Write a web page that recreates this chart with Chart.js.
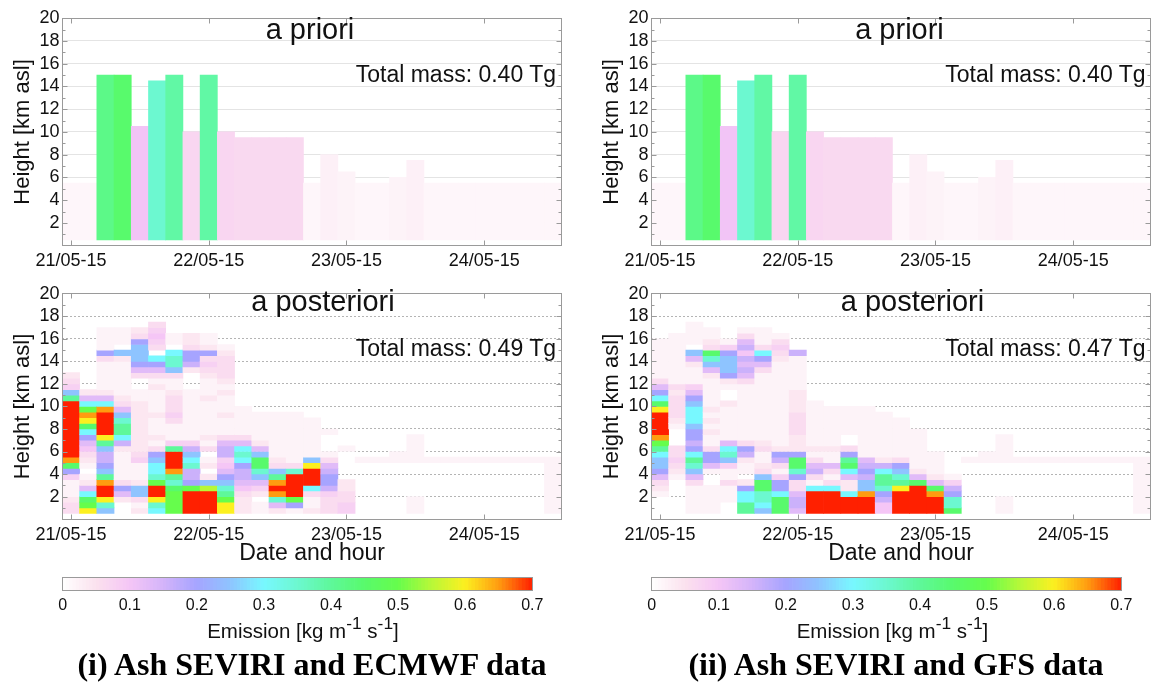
<!DOCTYPE html>
<html>
<head>
<meta charset="utf-8">
<script src="https://cdn.jsdelivr.net/npm/chart.js@4.4.1/dist/chart.umd.min.js"></script>
<style>
  html, body { margin: 0; padding: 0; background: #fff; }
  body { width: 1151px; height: 682px; position: relative; overflow: hidden;
         font-family: "Liberation Sans", Arial, Helvetica, sans-serif; color: #111; }
  canvas { position: absolute; }
  .t { position: absolute; white-space: nowrap; line-height: 1; }
  .cap { font-family: "Liberation Serif", "Times New Roman", serif; font-weight: bold; color: #000; }
  sup { font-size: 0.85em; line-height: 0; vertical-align: 0.5em; }
</style>
</head>
<body>
<canvas id="prioriL" width="580" height="272" style="left:0;top:0"></canvas>
<canvas id="prioriR" width="580" height="272" style="left:589px;top:0"></canvas>
<canvas id="postL" width="580" height="292" style="left:0;top:280px"></canvas>
<canvas id="postR" width="580" height="292" style="left:589px;top:280px"></canvas>
<canvas id="barL" width="580" height="58" style="left:0;top:565px"></canvas>
<canvas id="barR" width="580" height="58" style="left:589px;top:565px"></canvas>
<script>
// time slots (hours after 21/05-15 00:00), one cell column each
const columnHours = [0, 3, 6, 9, 12, 15, 18, 21, 24, 27, 30, 33, 36, 39, 42, 45, 48, 51, 54, 57, 60, 63, 66, 69, 72, 75, 78, 81, 84];
const dateTickHours = [0, 24, 48, 72];
const dateTickLabels = ['21/05-15', '22/05-15', '23/05-15', '24/05-15'];
const heightTicks = [2, 4, 6, 8, 10, 12, 14, 16, 18, 20];

// a priori: one column from 0.5 km up to the given top, one emission value
const aprioriTop = [5.5, 5.5, 15, 15, 10.5, 14.5, 15, 10, 15, 10, 9.5, 9.5, 9.5, 9.5, 5.5, 8, 6.5, 5.5, 5.5, 6, 7.5, 5.5, 5.5, 5.5, 5.5, 5.5, 5.5, 5.5, 5.5];
const aprioriEmission = [0.015, 0.015, 0.42, 0.45, 0.105, 0.35, 0.39, 0.07, 0.39, 0.07, 0.065, 0.065, 0.065, 0.065, 0.015, 0.025, 0.02, 0.015, 0.015, 0.02, 0.025, 0.015, 0.015, 0.015, 0.015, 0.015, 0.015, 0.015, 0.015];

// a posteriori: one string per column, one letter per 0.5 km level from 0.5 km upward
const levelCodes = '.abcdefghijklmnopqr';
const levelEmission = [0, 0.02, 0.04, 0.06, 0.08, 0.10, 0.13, 0.16, 0.20, 0.25, 0.30, 0.35, 0.40, 0.45, 0.50, 0.55, 0.60, 0.65, 0.70];

const posteriorEcmwf = [
  'ccbaaadhmqrrrrrrrrrrlidcb',
  'pnmjfba.abcefhjmpqnjfb',
  'ikprrqlihggilprrrrqjfbaaaaachaaaa',
  '..bfhcaaaaabgjllkifcbaaaaaabi.aaa',
  'baciibaaadcbbbbbbbbbaa..cfhiiihcb',
  'jkprrnkjjihcabaaabaaaabacfhj.cdedc',
  'nnnnmklqrrrldaaacdcccbaacikkj.aa',
  'rrrrnhggkjigdaaaaaaaaa...bghhcbb',
  'rrrroib.ba.cabaaaaaabaaabcdchbaa',
  'ppnlkihfedggfcaaabaaababccccba',
  'bbbcefgghjkjfcaaaaa',
  'aa.bdfikmmifbaaaaa',
  'bfkqrqlicbaaaaaaaa',
  'ahnrrrrkcaaaaaaaaa',
  'baacjrrrpiaaaaaaa',
  'cccdghhgfca...a',
  'ddccbb.....a',
  '.........a',
  '.........a',
  '.........aa',
  'aaa......aaaaa',
  '.........a',
  '.........a',
  '.........a',
  '.........a',
  '.........a',
  '.........a',
  '.........a',
  'aaaaaaaaaa'
];

const posteriorGfs = [
  '...abcfhiijlnqrrrrpmjhfcaaaaaaa',
  '......abcdcc...abccccbcaaaaaaaaa',
  'aaaaacfikljhghhijjjihfdaaabfi.aaaa',
  'aaaaa..afhhcaabababaaaaabfikmcbaa',
  '..aaacaadikjfaaaaaab..abhiiihda',
  'lljjhb.aabghcaaaaaaaaaacfgfgegfca',
  'ijkkmmicbaacbaaaaaaaaaaaacfhjcaaa',
  'mmmjhhdacghbaaaaaaaaaaaaaaabcdca',
  'fggfcchkmmhbbbccccbbbbaaaaaag',
  'rrrrjacgfcabaaaaaaaa',
  'rrrrjcacfaabaaaaaaa',
  'rrrjbbfjmlhc..aaaaa',
  'rrrqiighgfaaaaaaaaa',
  'eeghklljgbaaaaaaaa',
  'rrrrplkihcaaaaaaa',
  'rrrrrmfbaaaaaaa',
  'rrrqmfbaaaa',
  'mkkhgda',
  '.........a',
  '.........aa',
  'aaa......aaaaa',
  '.........a',
  '.........a',
  '.........a',
  '.........a',
  '.........a',
  '.........a',
  '.........a',
  'aaaaaaaaaa'
];

const panelTitles = ['a priori', 'a priori', 'a posteriori', 'a posteriori'];
const totalMassTg = ['0.40', '0.40', '0.49', '0.47'];
const captions = ['(i) Ash SEVIRI and ECMWF data', '(ii) Ash SEVIRI and GFS data'];

const colorbarTicks = [0, 0.1, 0.2, 0.3, 0.4, 0.5, 0.6, 0.7];
const colorbarTickLabels = ['0', '0.1', '0.2', '0.3', '0.4', '0.5', '0.6', '0.7'];

const colorStops = [
  [0, '#ffffff'], [0.05, '#fbe1ee'], [0.1, '#f5c6f6'], [0.15, '#d4b4fa'],
  [0.2, '#a6a4ff'], [0.25, '#8ec4ff'], [0.3, '#78f8ff'], [0.35, '#6cf8d0'],
  [0.4, '#5ef89a'], [0.45, '#58fa6c'], [0.5, '#66fd4c'], [0.55, '#b8f838'],
  [0.6, '#fcf020'], [0.65, '#ff9c10'], [0.7, '#ff2000']
];

const SANS = '"Liberation Sans", Arial, Helvetica, sans-serif';
Chart.defaults.font.family = SANS;
Chart.defaults.color = '#111';

function hexRgb(h) {
  return [parseInt(h.slice(1, 3), 16), parseInt(h.slice(3, 5), 16), parseInt(h.slice(5, 7), 16)];
}

function emissionColor(v) {
  if (v <= colorStops[0][0]) return colorStops[0][1];
  for (let i = 1; i < colorStops.length; i++) {
    if (v <= colorStops[i][0]) {
      const [v0, c0] = colorStops[i - 1], [v1, c1] = colorStops[i];
      const t = (v - v0) / (v1 - v0);
      const a = hexRgb(c0), b = hexRgb(c1);
      return 'rgb(' + a.map((x, k) => Math.round(x + (b[k] - x) * t)).join(',') + ')';
    }
  }
  return colorStops[colorStops.length - 1][1];
}

function aprioriCells() {
  return columnHours.map((h, i) => ({ x: h, y: [0.5, aprioriTop[i]], v: aprioriEmission[i] }));
}

function posteriorCells(columns) {
  const cells = [];
  columns.forEach((col, i) => {
    let r = 0;
    while (r < col.length) {
      let end = r + 1;
      while (end < col.length && col[end] === col[r]) end++;
      const v = levelEmission[levelCodes.indexOf(col[r])];
      if (v > 0) cells.push({ x: columnHours[i], y: [0.5 + 0.5 * r, 0.5 + 0.5 * end], v: v });
      r = end;
    }
  });
  return cells;
}

// box around the plot area plus small inward ticks, like the original axes
const framePlugin = {
  id: 'frame',
  afterDraw(chart, args, opts) {
    const { ctx, chartArea: a } = chart;
    const l = Math.floor(a.left) + 0.5, t = Math.floor(a.top) + 0.5;
    const r = Math.floor(a.right) + 0.5, b = Math.floor(a.bottom) + 0.5;
    ctx.save();
    ctx.strokeStyle = '#9a9a9a';
    ctx.lineWidth = 1;
    ctx.strokeRect(l, t, r - l, b - t);
    if (opts.ticks) {
      ctx.beginPath();
      dateTickHours.forEach(hr => {
        const px = Math.round(chart.scales.x.getPixelForValue(hr)) + 0.5;
        ctx.moveTo(px, b); ctx.lineTo(px, b - 5);
        ctx.moveTo(px, t); ctx.lineTo(px, t + 5);
      });
      for (let km = 1; km < 20; km++) {
        const py = Math.round(chart.scales.y.getPixelForValue(km)) + 0.5;
        const len = km % 2 ? 3 : 5;
        ctx.moveTo(l, py); ctx.lineTo(l + len, py);
        ctx.moveTo(r, py); ctx.lineTo(r - len, py);
      }
      ctx.stroke();
    }
    ctx.restore();
  }
};

function panelChart(id, cells, lower) {
  const h = lower ? 292 : 272;
  const plotTop = lower ? 11.6 : 18.2;
  const plotBottom = lower ? 239.1 : 245.7;
  return new Chart(document.getElementById(id), {
    type: 'bar',
    data: {
      datasets: [{
        data: cells,
        backgroundColor: c => emissionColor(c.raw.v),
        borderWidth: 0,
        barPercentage: 1,
        categoryPercentage: 1
      }]
    },
    options: {
      responsive: false,
      animation: false,
      devicePixelRatio: 1,
      layout: { padding: { left: 0, right: 18.3, top: plotTop, bottom: 0 } },
      plugins: { legend: { display: false }, tooltip: { enabled: false }, frame: { ticks: true } },
      scales: {
        x: {
          type: 'linear', min: -1.5, max: 85.5, offset: false,
          afterBuildTicks: s => { s.ticks = dateTickHours.map(v => ({ value: v })); },
          afterFit: s => { s.height = h - plotBottom; },
          grid: { display: false, drawTicks: false },
          border: { display: false },
          ticks: { autoSkip: false, maxRotation: 0, padding: 5, font: { size: 18 }, color: '#111',
                   callback: (v, i) => dateTickLabels[i] },
          title: { display: lower, text: 'Date and hour', font: { size: 23 }, color: '#111',
                   padding: { top: 0, bottom: 4.7 } }
        },
        y: {
          min: 0, max: 20,
          afterBuildTicks: s => { s.ticks = heightTicks.map(v => ({ value: v })); },
          afterFit: s => { s.width = 62.4; },
          grid: { color: c => (c.tick && c.tick.value >= 20) ? 'rgba(0,0,0,0)' : (lower ? '#b4b4b4' : '#e4e4e4'),
                  lineWidth: 1, drawTicks: false },
          border: { display: false, dash: lower ? [2, 2] : [] },
          ticks: { padding: 3, font: { size: 18 }, color: '#111' },
          title: { display: true, text: 'Height [km asl]', font: { size: 22 }, color: '#111',
                   padding: { top: 9.3, bottom: 0 } }
        }
      }
    },
    plugins: [framePlugin]
  });
}

function colorbarChart(id) {
  const segments = [];
  for (let k = 0; k < 140; k++) {
    const lo = k * 0.005, hi = (k + 1) * 0.005;
    segments.push({ y: 'bar', x: [lo, hi], v: (lo + hi) / 2 });
  }
  return new Chart(document.getElementById(id), {
    type: 'bar',
    data: {
      labels: ['bar'],
      datasets: [{
        data: segments,
        backgroundColor: c => emissionColor(c.raw.v),
        borderWidth: 0,
        barPercentage: 1,
        categoryPercentage: 1
      }]
    },
    options: {
      indexAxis: 'y',
      responsive: false,
      animation: false,
      devicePixelRatio: 1,
      layout: { padding: { left: 62.7, right: 47.7, top: 12.3, bottom: 0 } },
      plugins: { legend: { display: false }, tooltip: { enabled: false }, frame: { ticks: false } },
      scales: {
        y: { type: 'category', display: false },
        x: {
          type: 'linear', min: 0, max: 0.7, z: 1,
          afterBuildTicks: s => { s.ticks = colorbarTicks.map(v => ({ value: v })); },
          afterFit: s => { s.height = 58 - 25.7; },
          grid: { color: c => (c.tick && c.tick.value > 0.001 && c.tick.value < 0.699) ? '#6a6a6a' : 'rgba(0,0,0,0)',
                  drawTicks: false },
          border: { display: false, dash: [3, 3] },
          ticks: { autoSkip: false, maxRotation: 0, padding: 5, font: { size: 16 }, color: '#111',
                   callback: (v, i) => colorbarTickLabels[i] }
        }
      }
    },
    plugins: [framePlugin]
  });
}

panelChart('prioriL', aprioriCells(), false);
panelChart('prioriR', aprioriCells(), false);
panelChart('postL', posteriorCells(posteriorEcmwf), true);
panelChart('postR', posteriorCells(posteriorGfs), true);
colorbarChart('barL');
colorbarChart('barR');

// text overlays, positioned by baseline
function label(html, x, baseline, size, align, cls) {
  const d = document.createElement('div');
  d.className = 't' + (cls ? ' ' + cls : '');
  d.innerHTML = html;
  d.style.fontSize = size + 'px';
  const asc = cls === 'cap' ? 0.8375 : 0.8465;
  d.style.top = (baseline - asc * size) + 'px';
  d.style.left = x + 'px';
  if (align === 'center') d.style.transform = 'translateX(-50%)';
  if (align === 'right') d.style.transform = 'translateX(-100%)';
  document.body.appendChild(d);
}

[0, 589.5].forEach((dx, side) => {
  label(panelTitles[side], 310 + dx, 39.3, 29, 'center');
  label('Total mass: ' + totalMassTg[side] + ' Tg', 556 + dx, 82.7, 23, 'right');
  label(panelTitles[2 + side], 323 + dx, 312, 29, 'center');
  label('Total mass: ' + totalMassTg[2 + side] + ' Tg', 556 + dx, 356, 23, 'right');
  label('Emission [kg m<sup>-1</sup> s<sup>-1</sup>]', 303 + dx, 638, 20.5, 'center');
  label(captions[side], (side ? 896 : 312), 675, 32, 'center', 'cap');
});
</script>
</body>
</html>
